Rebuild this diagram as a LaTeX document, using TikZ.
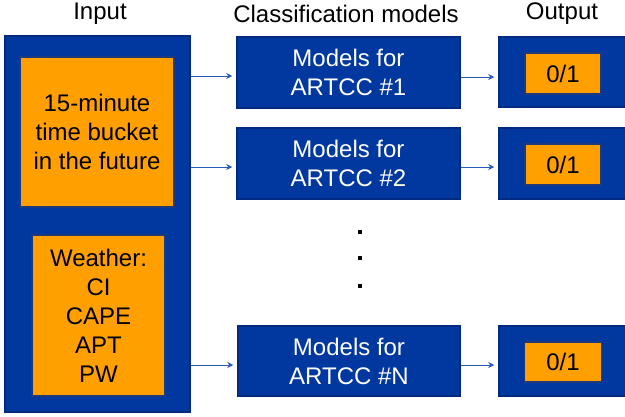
\documentclass[tikz,border=0pt]{standalone}
\usepackage{fontspec}
\setmainfont{Liberation Sans}
\usetikzlibrary{arrows.meta}
\definecolor{bluefill}{HTML}{0038A0}
\definecolor{blueedge}{HTML}{002A80}
\definecolor{orangefill}{HTML}{FFA000}
\definecolor{orangeedge}{HTML}{1E3A7A}
\definecolor{arrowcol}{HTML}{2A5AB8}
\tikzset{
  bluebox/.style={draw=blueedge, fill=bluefill, line width=1.5pt, inner sep=0pt, text=white, align=center, font=\fontsize{24}{29}\selectfont},
  orangebox/.style={draw=orangeedge, fill=orangefill, line width=1.5pt, inner sep=0pt, text=black, align=center, font=\fontsize{24}{29}\selectfont},
  header/.style={text=black, font=\fontsize{24}{29}\selectfont, inner sep=0pt},
  conn/.style={draw=arrowcol, line width=1pt, -{Stealth[length=6pt,width=6pt]}, shorten >=4pt},
  dotmark/.style={fill=black, inner sep=0pt, minimum size=3.5pt}
}
\begin{document}
\begin{tikzpicture}[x=1pt,y=-1pt]
\useasboundingbox (0,0) rectangle (625,416);
\clip (0,0) rectangle (625,416);
% headers
\node[header] (hin) at (100,14) {Input};
\node[header] (hcls) at (346,14) {Classification models};
\node[header] (hout) at (562,14) {Output};
% input
\node[bluebox, minimum width=185pt, minimum height=376pt] (in) at (97.5,224) {};
\node[orangebox, minimum width=154pt, minimum height=150pt] (t) at (97,132) {15-minute\\time bucket\\in the future};
\node[orangebox, minimum width=133pt, minimum height=161pt] (w) at (98.5,315.5) {Weather:\\CI\\CAPE\\APT\\PW};
% models
\node[bluebox, minimum width=223pt, minimum height=71pt] (m1) at (348.5,72.5) {Models for\\ARTCC \#1};
\node[bluebox, minimum width=223pt, minimum height=71pt] (m2) at (348.5,163.5) {Models for\\ARTCC \#2};
\node[bluebox, minimum width=222pt, minimum height=70pt] (mn) at (349,361) {Models for\\ARTCC \#N};
% outputs
\node[bluebox, minimum width=128pt, minimum height=70pt] (o1) at (563,72) {};
\node[bluebox, minimum width=128pt, minimum height=71pt] (o2) at (563,163.5) {};
\node[bluebox, minimum width=128pt, minimum height=70pt] (on) at (563,361) {};
\node[orangebox, minimum width=76pt, minimum height=41pt] (r1) at (563,73.5) {0/1};
\node[orangebox, minimum width=76pt, minimum height=41pt] (r2) at (563,164.5) {0/1};
\node[orangebox, minimum width=77pt, minimum height=40pt] (rn) at (563,362) {0/1};
% dots
\node[dotmark] (d1) at (360,232) {};
\node[dotmark] (d2) at (360,258) {};
\node[dotmark] (d3) at (360,286) {};
% connectors
\coordinate (s1) at (in.east |- 0,76);
\coordinate (s2) at (in.east |- 0,167);
\coordinate (sn) at (in.east |- 0,365);
\draw[conn] (s1) -- (m1.west |- s1);
\draw[conn] (s2) -- (m2.west |- s2);
\draw[conn] (sn) -- (mn.west |- sn);
\draw[conn] (m1.east |- 0,77) -- (o1.west |- 0,77);
\draw[conn] (m2.east |- 0,167) -- (o2.west |- 0,167);
\draw[conn] (mn.east |- 0,365) -- (on.west |- 0,365);
\end{tikzpicture}
\end{document}
